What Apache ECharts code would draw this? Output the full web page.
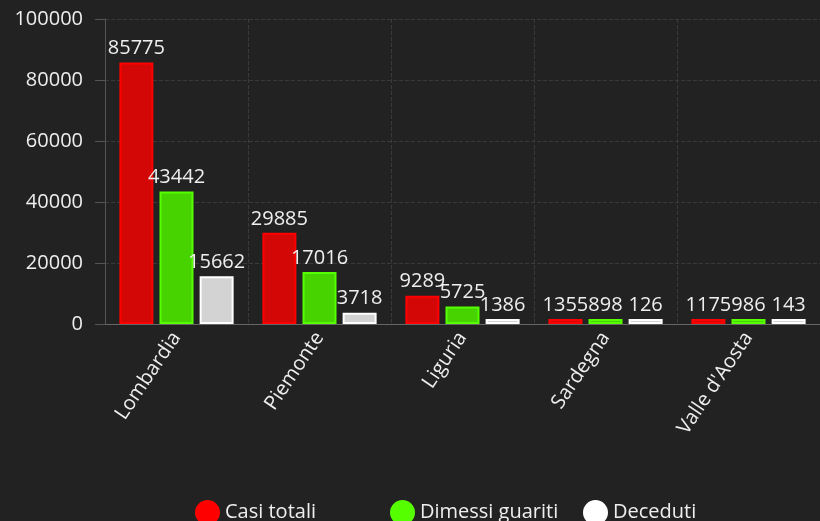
<!DOCTYPE html>
<html>
<head>
<meta charset="utf-8">
<script src="https://cdn.jsdelivr.net/npm/echarts@6/dist/echarts.min.js"></script>
<style>
  html, body { margin: 0; padding: 0; background: #222222; }
  #main { width: 820px; height: 521px; }
</style>
</head>
<body>
<div id="main"></div>
<script>
// regioni
var regioni = ['Lombardia', 'Piemonte', 'Liguria', 'Sardegna', "Valle d'Aosta"];

// valori per serie
var casiTotali = [85775, 29885, 9289, 1355, 1175];
var dimessiGuariti = [43442, 17016, 5725, 898, 986];
var deceduti = [15662, 3718, 1386, 126, 143];

var yTicks = [0, 20000, 40000, 60000, 80000, 100000];

var font = "'Open Sans', 'Noto Sans', sans-serif";
var testo = '#eeeeee';

function serie(nome, dati, riempi, bordo) {
    return {
        name: nome,
        type: 'bar',
        data: dati,
        barWidth: 34,
        barGap: '18%',
        barMinHeight: 5,
        itemStyle: { color: riempi, borderColor: bordo, borderWidth: 2 },
        label: {
            show: true,
            position: 'top',
            distance: 4,
            color: testo,
            fontFamily: font,
            fontSize: 20
        }
    };
}

// una legenda per voce, per avere le stesse distanze del riferimento
function legenda(nome, colore, x) {
    return {
        left: x,
        top: 495,
        icon: 'circle',
        itemWidth: 25,
        itemHeight: 25,
        itemGap: 6,
        textStyle: { color: testo, fontFamily: font, fontSize: 20 },
        data: [{ name: nome, itemStyle: { color: colore, borderWidth: 0 } }]
    };
}

var myChart = echarts.init(document.getElementById('main'));

var option = {
    backgroundColor: '#222222',
    animation: false,
    grid: { left: 105, top: 19, width: 717, height: 305 },
    legend: [
        legenda('Casi totali', '#ff0000', 190),
        legenda('Dimessi guariti', '#55ff00', 385),
        legenda('Deceduti', '#ffffff', 578)
    ],
    xAxis: {
        type: 'category',
        data: regioni,
        axisLine: { lineStyle: { color: '#666666' } },
        axisTick: { alignWithLabel: true, length: 6, lineStyle: { color: '#666666' } },
        axisLabel: { rotate: 56, margin: 10, color: testo, fontFamily: font, fontSize: 20 },
        splitLine: { show: true, lineStyle: { color: '#3a3a3a', type: 'dashed' } }
    },
    yAxis: {
        type: 'value',
        min: yTicks[0],
        max: yTicks[yTicks.length - 1],
        interval: 20000,
        axisLine: { show: true, lineStyle: { color: '#555555' } },
        axisTick: { show: true, length: 10, lineStyle: { color: '#555555' } },
        axisLabel: {
            margin: 22, color: testo, fontFamily: font, fontSize: 20,
            formatter: function (v) { return String(v); }
        },
        splitLine: { lineStyle: { color: '#3a3a3a', type: 'dashed' } }
    },
    series: [
        serie('Casi totali', casiTotali, '#d40707', '#ff0000'),
        serie('Dimessi guariti', dimessiGuariti, '#46d300', '#55ff00'),
        serie('Deceduti', deceduti, '#d3d3d3', '#ffffff')
    ]
};

myChart.setOption(option);
</script>
</body>
</html>
